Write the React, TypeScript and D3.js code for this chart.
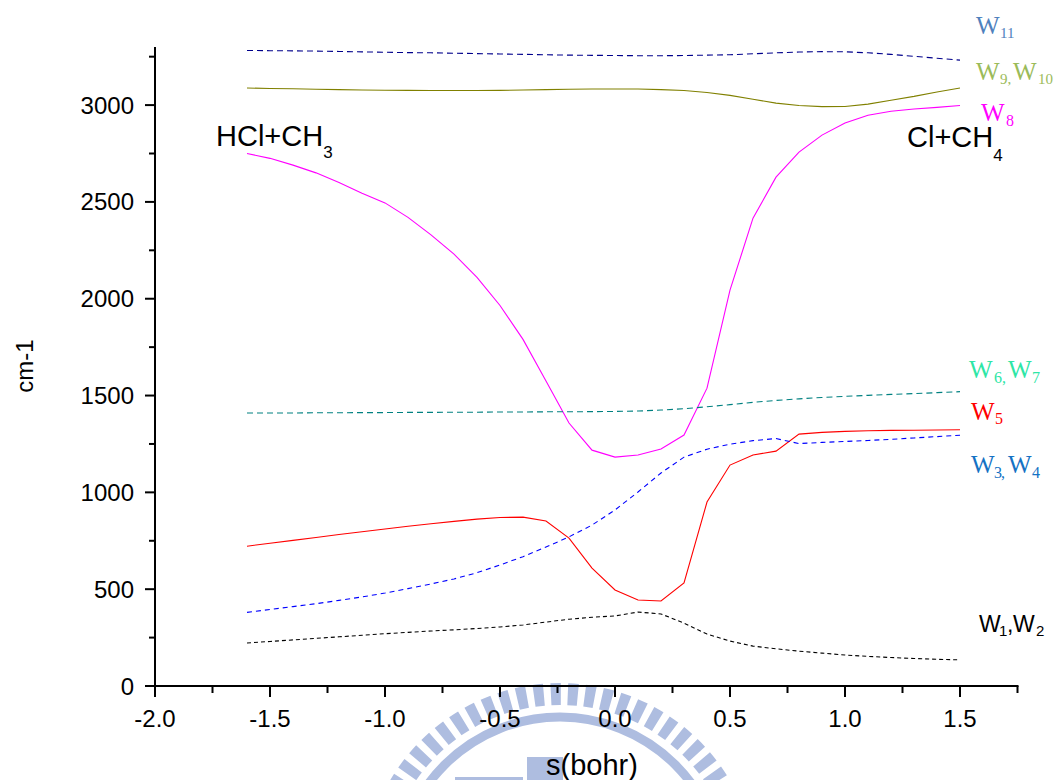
import React from "react";
import * as d3 from "d3";

const sValues = [-1.6, -1.5, -1.4, -1.3, -1.2, -1.1, -1.0, -0.9, -0.8, -0.7, -0.6, -0.5, -0.4, -0.3, -0.2, -0.1, 0.0, 0.1, 0.2, 0.3, 0.4, 0.5, 0.6, 0.7, 0.8, 0.9, 1.0, 1.1, 1.2, 1.3, 1.4, 1.5];

const w11 = [3282, 3281, 3280, 3279, 3277, 3275, 3273, 3271, 3270, 3268, 3266, 3264, 3262, 3260, 3258, 3257, 3256, 3255, 3255, 3256, 3258, 3260, 3265, 3270, 3274, 3276, 3275, 3270, 3262, 3252, 3242, 3232];
const w9w10 = [3088, 3086, 3084, 3082, 3080, 3078, 3077, 3076, 3075, 3075, 3075, 3076, 3078, 3080, 3082, 3083, 3083, 3083, 3080, 3075, 3065, 3050, 3030, 3010, 2998, 2992, 2993, 3005, 3025, 3045, 3068, 3088];
const w8 = [2750, 2725, 2690, 2650, 2600, 2545, 2495, 2420, 2330, 2230, 2110, 1965, 1790, 1575, 1358, 1218, 1182, 1193, 1224, 1296, 1538, 2044, 2416, 2628, 2757, 2845, 2907, 2948, 2968, 2980, 2988, 2998];
const w6w7 = [1410, 1410, 1410, 1411, 1411, 1412, 1412, 1413, 1413, 1414, 1414, 1415, 1415, 1416, 1416, 1417, 1418, 1420, 1425, 1432, 1442, 1453, 1465, 1475, 1483, 1490, 1496, 1501, 1506, 1510, 1515, 1520];
const w5 = [722, 737, 752, 767, 782, 797, 811, 825, 838, 850, 862, 870, 872, 852, 764, 609, 496, 444, 439, 532, 950, 1141, 1193, 1213, 1301, 1310, 1315, 1318, 1320, 1321, 1322, 1323];
const w3w4 = [380, 395, 410, 425, 442, 460, 480, 503, 527, 553, 585, 625, 668, 718, 770, 831, 909, 1002, 1100, 1182, 1223, 1249, 1267, 1278, 1252, 1258, 1263, 1268, 1274, 1281, 1288, 1295];
const w1w2 = [222, 230, 238, 246, 254, 262, 270, 277, 284, 290, 297, 305, 315, 330, 345, 355, 362, 382, 372, 325, 268, 232, 206, 192, 180, 170, 160, 153, 147, 142, 138, 135];

const xMajorTicks = [-2.0, -1.5, -1.0, -0.5, 0.0, 0.5, 1.0, 1.5];
const xMinorTicks = [-1.75, -1.25, -0.75, -0.25, 0.25, 0.75, 1.25, 1.75];
const yMajorTicks = [0, 500, 1000, 1500, 2000, 2500, 3000];
const yMinorTicks = [250, 750, 1250, 1750, 2250, 2750, 3250];

const series = [
  { name: "W11", values: w11, color: "#00008b", dash: "6 4" },
  { name: "W9,W10", values: w9w10, color: "#808000", dash: null },
  { name: "W8", values: w8, color: "#ff00ff", dash: null },
  { name: "W6,W7", values: w6w7, color: "#008080", dash: "6 4" },
  { name: "W5", values: w5, color: "#ff0000", dash: null },
  { name: "W3,W4", values: w3w4, color: "#0000ff", dash: "5 4" },
  { name: "W1,W2", values: w1w2, color: "#000000", dash: "4 3" },
];

const SANS = "'Liberation Sans', Arial, Helvetica, sans-serif";
const SERIF = "'Liberation Serif', 'Times New Roman', serif";

export default function App() {
  const x = d3.scaleLinear().domain([-2, 1.75]).range([155, 1017.5]);
  const y = d3.scaleLinear().domain([0, 3300]).range([686, 47]);
  const line = d3
    .line<number>()
    .x((_, i) => x(sValues[i]))
    .y((v) => y(v));

  const wm = "#aebde0";
  const cx = 560;
  const cy = 880;

  return (
    <svg
      width={1061}
      height={780}
      style={{ position: "absolute", left: 0, top: 0, background: "#fff" }}
    >
      {/* watermark */}
      <g>
        <circle cx={cx} cy={cy} r={186} fill="none" stroke={wm} strokeWidth={22} strokeDasharray="10 7" />
        <circle cx={cx} cy={cy} r={163} fill="none" stroke={wm} strokeWidth={9} />
        <rect x={527} y={757} width={36} height={30} fill={wm} />
        <rect x={455} y={777} width={68} height={10} fill={wm} />
      </g>

      {/* series */}
      {series.map((s) => (
        <path
          key={s.name}
          d={line(s.values) || ""}
          fill="none"
          stroke={s.color}
          strokeWidth={1.1}
          strokeDasharray={s.dash || undefined}
        />
      ))}

      {/* axes */}
      <g stroke="#000" strokeWidth={2}>
        <line x1={x(-2)} x2={x(-2)} y1={y(3300)} y2={y(0) + 1} />
        <line x1={x(-2) - 1} x2={x(1.75) + 1} y1={y(0)} y2={y(0)} />
        {yMajorTicks.map((t) => (
          <line key={"ym" + t} x1={x(-2) - 10} x2={x(-2)} y1={y(t)} y2={y(t)} />
        ))}
        {yMinorTicks.map((t) => (
          <line key={"yn" + t} x1={x(-2) - 6} x2={x(-2)} y1={y(t)} y2={y(t)} />
        ))}
        {xMajorTicks.map((t) => (
          <line key={"xm" + t} x1={x(t)} x2={x(t)} y1={y(0)} y2={y(0) + 11} />
        ))}
        {xMinorTicks.map((t) => (
          <line key={"xn" + t} x1={x(t)} x2={x(t)} y1={y(0)} y2={y(0) + 7} />
        ))}
      </g>

      <g fontFamily={SANS} fontSize={24} fill="#000">
        {yMajorTicks.map((t) => (
          <text key={"yl" + t} x={x(-2) - 21} y={y(t) + 8.5} textAnchor="end">
            {t}
          </text>
        ))}
        {xMajorTicks.map((t) => (
          <text key={"xl" + t} x={x(t)} y={727} textAnchor="middle">
            {t.toFixed(1)}
          </text>
        ))}
        <text transform="translate(33,366) rotate(-90)" textAnchor="middle">
          cm-1
        </text>
        <text x={592} y={775} textAnchor="middle" fontSize={29}>
          s(bohr)
        </text>
      </g>

      {/* annotations */}
      <g fontFamily={SANS} fill="#000">
        <text x={216} y={146} fontSize={29}>
          HCl+CH<tspan fontSize={17} dy={12}>3</tspan>
        </text>
        <text x={907} y={147} fontSize={29}>
          Cl+CH<tspan fontSize={17} dy={14}>4</tspan>
        </text>
      </g>

      <g fontFamily={SERIF}>
        <text fill="#4f81bd" fontSize={25}>
          <tspan x={976} y={34}>W</tspan>
          <tspan x={1000} y={38} fontSize={15}>11</tspan>
        </text>
        <text fill="#9bbb59" fontSize={25}>
          <tspan x={976} y={80}>W</tspan>
          <tspan x={1000} y={84} fontSize={15}>9,</tspan>
          <tspan x={1013} y={80}>W</tspan>
          <tspan x={1038} y={84} fontSize={15}>10</tspan>
        </text>
        <text fill="#ff00ff" fontSize={25}>
          <tspan x={981} y={121}>W</tspan>
          <tspan x={1006} y={126} fontSize={16}>8</tspan>
        </text>
        <text fill="#2ee6a6" fontSize={25}>
          <tspan x={969} y={378}>W</tspan>
          <tspan x={994} y={383} fontSize={16}>6,</tspan>
          <tspan x={1008} y={378}>W</tspan>
          <tspan x={1032} y={383} fontSize={16}>7</tspan>
        </text>
        <text fill="#ff0000" fontSize={25}>
          <tspan x={971} y={420}>W</tspan>
          <tspan x={995} y={424} fontSize={16}>5</tspan>
        </text>
        <text fill="#1472c4" fontSize={25}>
          <tspan x={971} y={473}>W</tspan>
          <tspan x={994} y={478} fontSize={16}>3</tspan>
          <tspan x={1001} y={478} fontSize={16}>,</tspan>
          <tspan x={1008} y={473}>W</tspan>
          <tspan x={1032} y={478} fontSize={16}>4</tspan>
        </text>
      </g>
      <g fontFamily={SANS} fill="#000">
        <text fontSize={23}>
          <tspan x={979} y={632}>W</tspan>
          <tspan x={999} y={636} fontSize={15}>1</tspan>
          <tspan x={1007} y={632}>,</tspan>
          <tspan x={1013} y={632}>W</tspan>
          <tspan x={1036} y={636} fontSize={15}>2</tspan>
        </text>
      </g>
    </svg>
  );
}
